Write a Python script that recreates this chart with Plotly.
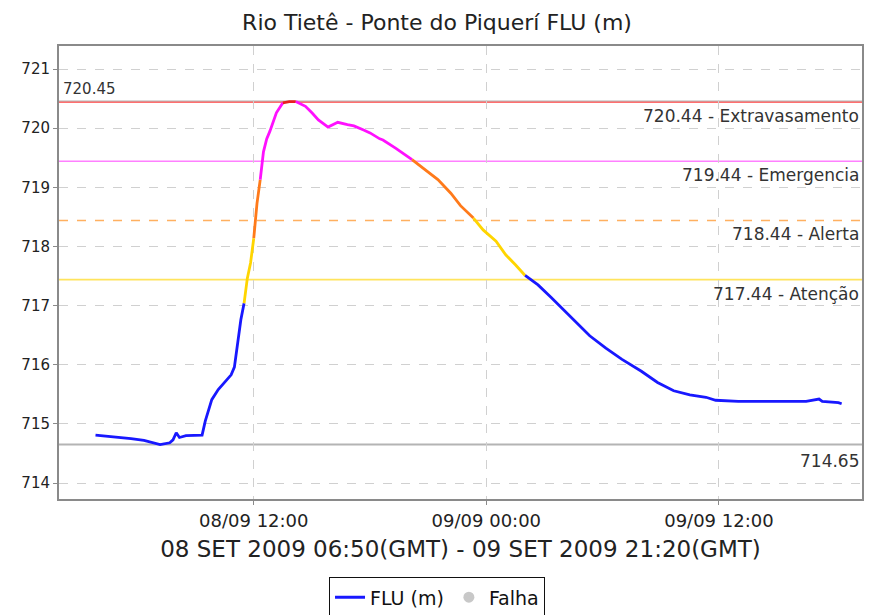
import plotly.graph_objects as go

# nível do rio (hora local)
times = [
    "2009-09-08 03:50", "2009-09-08 04:30", "2009-09-08 05:40", "2009-09-08 06:20",
    "2009-09-08 07:10", "2009-09-08 07:40", "2009-09-08 07:50", "2009-09-08 08:00",
    "2009-09-08 08:10", "2009-09-08 08:30", "2009-09-08 09:20", "2009-09-08 09:30",
    "2009-09-08 09:40", "2009-09-08 09:50", "2009-09-08 10:10", "2009-09-08 10:40",
    "2009-09-08 10:50", "2009-09-08 11:00", "2009-09-08 11:10", "2009-09-08 11:20",
    "2009-09-08 11:30", "2009-09-08 11:40", "2009-09-08 11:50", "2009-09-08 12:00",
    "2009-09-08 12:10", "2009-09-08 12:20", "2009-09-08 12:30", "2009-09-08 12:40",
    "2009-09-08 12:50", "2009-09-08 13:10", "2009-09-08 13:30", "2009-09-08 13:50",
    "2009-09-08 14:10", "2009-09-08 14:40", "2009-09-08 15:00", "2009-09-08 15:20",
    "2009-09-08 15:50", "2009-09-08 16:20", "2009-09-08 16:50", "2009-09-08 17:10",
    "2009-09-08 17:40", "2009-09-08 18:00", "2009-09-08 18:30", "2009-09-08 18:40",
    "2009-09-08 19:20", "2009-09-08 20:10", "2009-09-08 20:50", "2009-09-08 21:30",
    "2009-09-08 22:10", "2009-09-08 22:40", "2009-09-08 23:20", "2009-09-08 23:50",
    "2009-09-09 00:30", "2009-09-09 01:00", "2009-09-09 01:30", "2009-09-09 02:00",
    "2009-09-09 02:40", "2009-09-09 03:20", "2009-09-09 04:30", "2009-09-09 05:20",
    "2009-09-09 06:10", "2009-09-09 07:00", "2009-09-09 08:00", "2009-09-09 08:50",
    "2009-09-09 09:40", "2009-09-09 10:30", "2009-09-09 11:20", "2009-09-09 11:50",
    "2009-09-09 13:00", "2009-09-09 14:50", "2009-09-09 16:30", "2009-09-09 17:10",
    "2009-09-09 17:20", "2009-09-09 18:10", "2009-09-09 18:20",
]
levels = [
    714.81, 714.79, 714.75, 714.72,
    714.65, 714.68, 714.73, 714.85,
    714.77, 714.80, 714.81, 715.05,
    715.22, 715.41, 715.58, 715.78,
    715.83, 715.96, 716.37, 716.76,
    717.04, 717.46, 717.72, 718.14,
    718.73, 719.13, 719.60, 719.82,
    719.95, 720.26, 720.43, 720.45,
    720.45, 720.37, 720.26, 720.14,
    720.02, 720.10, 720.06, 720.04,
    719.97, 719.92, 719.82, 719.80,
    719.66, 719.47, 719.30, 719.13,
    718.90, 718.69, 718.48, 718.28,
    718.09, 717.86, 717.69, 717.51,
    717.35, 717.14, 716.76, 716.49,
    716.28, 716.09, 715.89, 715.70,
    715.56, 715.49, 715.45, 715.40,
    715.38, 715.38, 715.38, 715.42,
    715.38, 715.36, 715.34,
]

threshold_values = [720.44, 719.44, 718.44, 717.44]
threshold_names = ["Extravasamento", "Emergencia", "Alerta", "Atenção"]
threshold_line_colors = ["#ff6f6f", "#ff80ff", "#ffb060", "#ffe45c"]
threshold_dash = ["solid", "solid", "dash", "solid"]
# cor da curva por faixa: extravasamento, emergência, alerta, atenção, normal
band_colors = ["#e82020", "#ff10ff", "#ff7a1a", "#ffd500", "#1818ff"]

FONT = "DejaVu Sans"


def band(v):
    for i, t in enumerate(threshold_values):
        if v >= t:
            return i
    return len(threshold_values)


fig = go.Figure()

# cada trecho leva a cor da faixa do ponto final
runs = []
for i in range(1, len(levels)):
    b = band(levels[i])
    if runs and runs[-1][0] == b:
        runs[-1][1].append(i)
    else:
        runs.append([b, [i - 1, i]])

for b, idx in runs:
    fig.add_trace(go.Scatter(
        x=[times[k] for k in idx], y=[levels[k] for k in idx],
        mode="lines", line=dict(color=band_colors[b], width=2.8),
        showlegend=False, hoverinfo="x+y"))

# entradas da legenda
fig.add_trace(go.Scatter(x=[None], y=[None], mode="lines", name="FLU (m)",
                         line=dict(color="#1818ff", width=3)))
fig.add_trace(go.Scatter(x=[None], y=[None], mode="markers", name="Falha",
                         marker=dict(color="#c8c8c8", size=11)))

max_level = max(levels)
min_level = min(levels)
for v in [max_level, min_level]:
    fig.add_hline(y=v, line=dict(color="#b4b4b4", width=2), layer="below")
for v, c, d in zip(threshold_values, threshold_line_colors, threshold_dash):
    fig.add_hline(y=v, line=dict(color=c, width=1.6, dash=d), layer="below")

for v, n in zip(threshold_values, threshold_names):
    fig.add_annotation(x=1, xref="paper", y=v, yref="y", text=f"{v:.2f} - {n}",
                       xanchor="right", yanchor="top", yshift=-2, xshift=-1,
                       showarrow=False, font=dict(family=FONT, size=17, color="#333333"))
fig.add_annotation(x=0, xref="paper", y=max_level, yref="y", text=f"{max_level:.2f}",
                   xanchor="left", yanchor="bottom", yshift=2, xshift=2,
                   showarrow=False, font=dict(family=FONT, size=15, color="#333333"))
fig.add_annotation(x=1, xref="paper", y=min_level, yref="y", text=f"{min_level:.2f}",
                   xanchor="right", yanchor="top", yshift=-4, xshift=-1,
                   showarrow=False, font=dict(family=FONT, size=17, color="#333333"))

# a página tem 8 px de margem no body: a figura é 8 px menor e deslocada
fig.update_layout(
    width=866, height=607,
    margin=dict(l=51, r=12, t=38, b=116, autoexpand=False),
    paper_bgcolor="white", plot_bgcolor="white",
    title=dict(text="Rio Tietê - Ponte do Piquerí FLU (m)", x=0.4954, xanchor="center",
               y=0.977, yanchor="middle", font=dict(family=FONT, size=22, color="#222222")),
    font=dict(family=FONT, color="#222222"),
    legend=dict(orientation="h", x=0.4954, xref="container", xanchor="center",
                y=0.062, yref="container", yanchor="top",
                bordercolor="#111111", borderwidth=1, font=dict(size=19, color="#111111"),
                itemwidth=30, tracegroupgap=0),
)
fig.update_xaxes(
    type="date", range=["2009-09-08 01:57", "2009-09-09 19:23"], automargin=False,
    tick0="2009-09-08 12:00", dtick=12 * 3600 * 1000, tickformat="%d/%m %H:%M",
    showgrid=True, gridcolor="#d0d0d0", griddash="dash", gridwidth=1,
    showline=True, linecolor="#8a8a8a", linewidth=2, mirror=True,
    ticks="outside", ticklen=4, tickcolor="#8a8a8a",
    tickfont=dict(size=18), zeroline=False,
    title=dict(text="08 SET 2009 06:50(GMT) - 09 SET 2009 21:20(GMT)",
               font=dict(size=23), standoff=11),
)
fig.update_yaxes(
    range=[713.73, 721.39], dtick=1, automargin=False,
    showgrid=True, gridcolor="#d0d0d0", griddash="dash", gridwidth=1,
    showline=True, linecolor="#8a8a8a", linewidth=2, mirror=True,
    ticks="outside", ticklen=4, tickcolor="#8a8a8a",
    tickfont=dict(size=15), zeroline=False,
)

fig.write_html("out.html")
